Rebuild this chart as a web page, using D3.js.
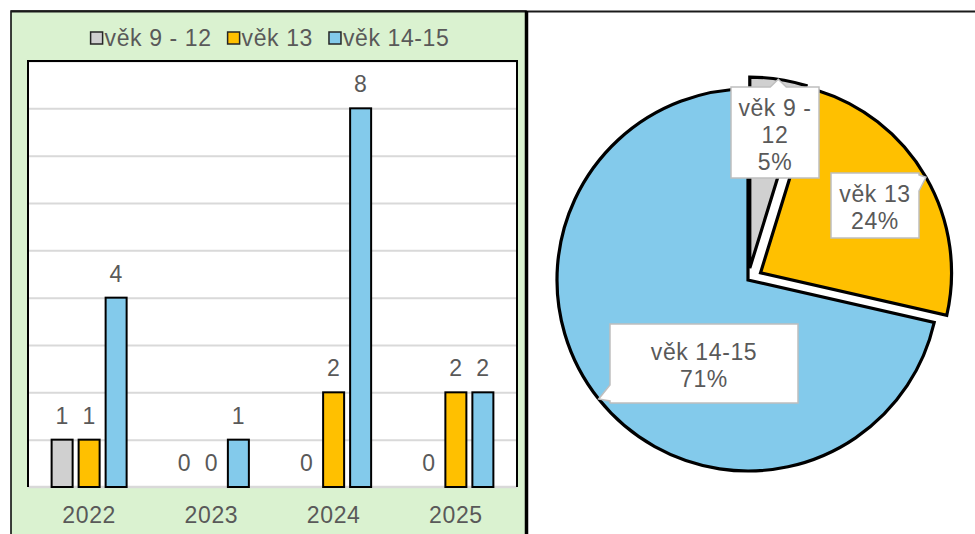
<!DOCTYPE html>
<html>
<head>
<meta charset="utf-8">
<script src="https://cdn.jsdelivr.net/npm/d3@7"></script>
<style>
  body { margin: 0; background: #fff; }
  text { font-family: Arial, "Liberation Sans", sans-serif; fill: #595959; }
</style>
</head>
<body>
<script>
// data
const years = ['2022', '2023', '2024', '2025'];
const seriesNames = ['věk 9 - 12', 'věk 13', 'věk 14-15'];
const age9to12 = [1, 0, 0, 0];
const age13 = [1, 0, 2, 2];
const age14to15 = [4, 1, 8, 2];
const yTicks = [0, 1, 2, 3, 4, 5, 6, 7, 8, 9];

const colors = ['#d0d0d0', '#ffc000', '#83caeb'];
const series = [age9to12, age13, age14to15];

const W = 975, H = 534;
const fontSize = 23;
const spacing = '0.6px';

let svg = d3.select('body')
  .append('svg')
  .attr('width', W)
  .attr('height', H)
  .style('display', 'block');

// panels
svg.append('rect')
  .attr('x', 11).attr('y', 11)
  .attr('width', 515).attr('height', H)
  .attr('fill', '#daf2d0')
  .attr('stroke', '#000').attr('stroke-width', 1.5);

svg.append('line')
  .attr('x1', 11).attr('x2', W).attr('y1', 11.5).attr('y2', 11.5)
  .attr('stroke', '#1a1a1a').attr('stroke-width', 2);

svg.append('line')
  .attr('x1', 526.5).attr('x2', 526.5).attr('y1', 11).attr('y2', H)
  .attr('stroke', '#000').attr('stroke-width', 3.5);

// ---- bar chart ----
const plot = { left: 28, right: 517, top: 61, bottom: 487 };

svg.append('rect')
  .attr('x', plot.left).attr('y', plot.top)
  .attr('width', plot.right - plot.left).attr('height', plot.bottom - plot.top)
  .attr('fill', '#fff');

const x = d3.scaleBand().domain(years).range([plot.left, plot.right]);
const xs = d3.scaleBand().domain(d3.range(series.length))
  .range([0, x.bandwidth()])
  .paddingInner(0.222)
  .paddingOuter(0.875);
const y = d3.scaleLinear().domain([0, d3.max(yTicks)]).range([plot.bottom, plot.top]);

// gridlines
let grid = svg.append('g')
  .attr('transform', `translate(${plot.left},0)`)
  .call(d3.axisLeft(y).tickValues(yTicks.slice(1)).tickSize(-(plot.right - plot.left)).tickFormat(''));
grid.select('.domain').remove();
grid.selectAll('line').attr('stroke', '#d9d9d9').attr('stroke-width', 2);

// category axis
let xAxis = svg.append('g')
  .attr('transform', `translate(0,${plot.bottom})`)
  .call(d3.axisBottom(x).tickSize(0));
xAxis.select('.domain').remove();
xAxis.selectAll('text')
  .attr('y', 36).attr('dy', null)
  .style('font-size', fontSize + 'px')
  .style('letter-spacing', spacing)
  .attr('fill', '#595959')
  .style('font-family', 'Arial, "Liberation Sans", sans-serif');

svg.append('line')
  .attr('x1', plot.left).attr('x2', plot.right)
  .attr('y1', plot.bottom).attr('y2', plot.bottom)
  .attr('stroke', '#d9d9d9').attr('stroke-width', 2.5);

svg.append('path')
  .attr('d', `M${plot.left},${plot.bottom}V${plot.top}H${plot.right}V${plot.bottom}`)
  .attr('fill', 'none').attr('stroke', '#000').attr('stroke-width', 2);

// bars
const barData = [];
series.forEach((vals, si) => {
  vals.forEach((v, yi) => barData.push({ year: years[yi], si: si, v: v }));
});

let groups = svg.append('g');
groups.selectAll('.bar')
  .data(barData.filter((d) => d.v > 0))
  .enter()
  .append('rect')
  .attr('class', 'bar')
  .attr('x', (d) => x(d.year) + xs(d.si))
  .attr('y', (d) => y(d.v))
  .attr('width', xs.bandwidth())
  .attr('height', (d) => y(0) - y(d.v))
  .attr('fill', (d) => colors[d.si])
  .attr('stroke', '#000')
  .attr('stroke-width', 2);

groups.selectAll('.val')
  .data(barData)
  .enter()
  .append('text')
  .attr('class', 'val')
  .attr('x', (d) => x(d.year) + xs(d.si) + xs.bandwidth() / 2)
  .attr('y', (d) => y(d.v) - 16)
  .attr('text-anchor', 'middle')
  .style('font-size', fontSize + 'px')
  .style('letter-spacing', spacing)
  .text((d) => d.v);

// legend
let legend = svg.append('g');
let lx = 0;
seriesNames.forEach((name, i) => {
  let item = legend.append('g');
  item.append('rect')
    .attr('x', 0).attr('y', -14)
    .attr('width', 12).attr('height', 12)
    .attr('fill', colors[i])
    .attr('stroke', '#262626').attr('stroke-width', 1.5);
  let t = item.append('text')
    .attr('x', 14)
    .style('font-size', fontSize + 'px')
    .style('letter-spacing', spacing)
    .text(name);
  let w = 14 + t.node().getComputedTextLength();
  item.attr('transform', `translate(${lx},0)`);
  lx += w + 16;
});
const legendWidth = lx - 16;
legend.attr('transform', `translate(${270 - legendWidth / 2},46)`);

// ---- pie chart ----
const totals = series.map((vals) => d3.sum(vals));
const total = d3.sum(totals);
const pieCenter = [748, 280];
const radius = 191;
const explode = [12, 14.5, 0];
const pieLabelBoxes = [
  { x: 731, y: 87, w: 88, h: 91 },
  { x: 831, y: 173, w: 88, h: 65 },
  { x: 610, y: 324, w: 188, h: 79 }
];

const arcs = d3.pie().sort(null).value((d) => d)(totals);
const arc = d3.arc().innerRadius(0).outerRadius(radius);

let pg = svg.append('g').attr('transform', `translate(${pieCenter[0]},${pieCenter[1]})`);

const dirOf = (a) => {
  let m = (a.startAngle + a.endAngle) / 2;
  return [Math.sin(m), -Math.cos(m)];
};

pg.selectAll('.slice')
  .data(arcs)
  .enter()
  .append('path')
  .attr('class', 'slice')
  .attr('transform', (d, i) => {
    let dir = dirOf(d);
    return `translate(${dir[0] * explode[i]},${dir[1] * explode[i]})`;
  })
  .attr('d', arc)
  .attr('fill', (d, i) => colors[i])
  .attr('stroke', '#000')
  .attr('stroke-width', 3.2)
  .attr('stroke-linejoin', 'miter');

// callout shaped label
const callout = (b, tx, ty) => {
  let x0 = b.x, y0 = b.y, x1 = b.x + b.w, y1 = b.y + b.h, hw = 8;
  let clamp = (v, lo, hi) => Math.max(lo, Math.min(hi, v));
  if (ty < y0) {
    let c = clamp(tx, x0 + 10, x1 - 10);
    return `M${x0},${y0}H${c - hw}L${tx},${ty}L${c + hw},${y0}H${x1}V${y1}H${x0}Z`;
  } else if (tx > x1) {
    let c = clamp(ty, y0 + 10, y1 - 10);
    return `M${x0},${y0}H${x1}V${c - hw}L${tx},${ty}L${x1},${c + hw}V${y1}H${x0}Z`;
  } else if (tx < x0) {
    let c = clamp(ty, y0 + 10, y1 - 10);
    return `M${x0},${y0}H${x1}V${y1}H${x0}V${c + hw}L${tx},${ty}L${x0},${c - hw}Z`;
  }
  let c = clamp(tx, x0 + 10, x1 - 10);
  return `M${x0},${y0}H${x1}V${y1}H${c + hw}L${tx},${ty}L${c - hw},${y1}H${x0}Z`;
};

let labels = svg.append('g');
arcs.forEach((a, i) => {
  let dir = dirOf(a);
  let tip = [pieCenter[0] + dir[0] * (radius + explode[i]), pieCenter[1] + dir[1] * (radius + explode[i])];
  let b = pieLabelBoxes[i];
  labels.append('path')
    .attr('d', callout(b, tip[0], tip[1]))
    .attr('fill', '#fff')
    .attr('stroke', '#bfbfbf')
    .attr('stroke-width', 1.5);

  // wrap name to box width
  let words = seriesNames[i].split(' ');
  let lines = [];
  let cur = '';
  let probe = labels.append('text').style('font-size', fontSize + 'px').style('letter-spacing', spacing);
  words.forEach((w) => {
    let test = cur ? cur + ' ' + w : w;
    probe.text(test);
    if (probe.node().getComputedTextLength() > b.w - 8 && cur) {
      lines.push(cur);
      cur = w;
    } else {
      cur = test;
    }
  });
  lines.push(cur);
  probe.remove();
  lines.push(Math.round(totals[i] / total * 100) + '%');

  let cy = b.y + b.h / 2;
  let first = cy - (lines.length - 1) * 27 / 2 + 10;
  lines.forEach((ln, k) => {
    labels.append('text')
      .attr('x', b.x + b.w / 2)
      .attr('y', first + k * 27)
      .attr('text-anchor', 'middle')
      .style('font-size', fontSize + 'px')
      .style('letter-spacing', spacing)
      .text(ln);
  });
});
</script>
</body>
</html>
